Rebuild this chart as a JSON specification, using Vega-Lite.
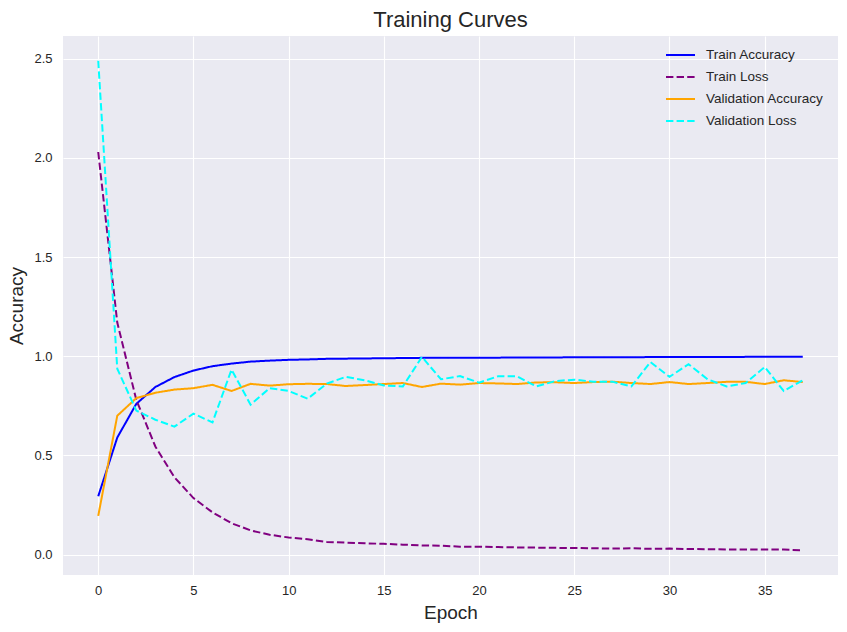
{
  "$schema": "https://vega.github.io/schema/vega-lite/v6.json",
  "autosize": "none",
  "width": 775,
  "height": 539,
  "padding": {"left": 63, "top": 36, "right": 9, "bottom": 57},
  "background": "white",
  "config": {
    "view": {"fill": "#EAEAF2", "stroke": null},
    "font": "Liberation Sans",
    "axis": {
      "domain": false,
      "ticks": false,
      "gridColor": "white",
      "gridWidth": 1.1,
      "labelFont": "Liberation Sans",
      "labelFontSize": 13,
      "labelColor": "#262626",
      "titleFont": "Liberation Sans",
      "titleFontSize": 19,
      "titleFontWeight": "normal",
      "titleColor": "#262626"
    },
    "legend": {
      "labelFont": "Liberation Sans",
      "labelFontSize": 13.5,
      "labelColor": "#262626"
    }
  },
  "title": {
    "text": "Training Curves",
    "fontSize": 22,
    "fontWeight": "normal",
    "font": "Liberation Sans",
    "color": "#262626",
    "baseline": "alphabetic",
    "offset": 9,
    "dy": 22
  },
  "data": {
    "values": [
      {"epoch": 0, "Train Accuracy": 0.294, "Train Loss": 2.03, "Validation Accuracy": 0.195, "Validation Loss": 2.49},
      {"epoch": 1, "Train Accuracy": 0.59, "Train Loss": 1.17, "Validation Accuracy": 0.70, "Validation Loss": 0.937},
      {"epoch": 2, "Train Accuracy": 0.76, "Train Loss": 0.78, "Validation Accuracy": 0.789, "Validation Loss": 0.726},
      {"epoch": 3, "Train Accuracy": 0.845, "Train Loss": 0.545, "Validation Accuracy": 0.816, "Validation Loss": 0.68},
      {"epoch": 4, "Train Accuracy": 0.895, "Train Loss": 0.39, "Validation Accuracy": 0.832, "Validation Loss": 0.645},
      {"epoch": 5, "Train Accuracy": 0.928, "Train Loss": 0.285, "Validation Accuracy": 0.839, "Validation Loss": 0.711},
      {"epoch": 6, "Train Accuracy": 0.95, "Train Loss": 0.213, "Validation Accuracy": 0.856, "Validation Loss": 0.666},
      {"epoch": 7, "Train Accuracy": 0.963, "Train Loss": 0.158, "Validation Accuracy": 0.825, "Validation Loss": 0.933},
      {"epoch": 8, "Train Accuracy": 0.973, "Train Loss": 0.122, "Validation Accuracy": 0.861, "Validation Loss": 0.756},
      {"epoch": 9, "Train Accuracy": 0.978, "Train Loss": 0.1, "Validation Accuracy": 0.852, "Validation Loss": 0.839},
      {"epoch": 10, "Train Accuracy": 0.982, "Train Loss": 0.086, "Validation Accuracy": 0.859, "Validation Loss": 0.825},
      {"epoch": 11, "Train Accuracy": 0.984, "Train Loss": 0.077, "Validation Accuracy": 0.861, "Validation Loss": 0.786},
      {"epoch": 12, "Train Accuracy": 0.987, "Train Loss": 0.064, "Validation Accuracy": 0.86, "Validation Loss": 0.862},
      {"epoch": 13, "Train Accuracy": 0.988, "Train Loss": 0.06, "Validation Accuracy": 0.85, "Validation Loss": 0.896},
      {"epoch": 14, "Train Accuracy": 0.989, "Train Loss": 0.057, "Validation Accuracy": 0.855, "Validation Loss": 0.879},
      {"epoch": 15, "Train Accuracy": 0.99, "Train Loss": 0.054, "Validation Accuracy": 0.86, "Validation Loss": 0.853},
      {"epoch": 16, "Train Accuracy": 0.991, "Train Loss": 0.05, "Validation Accuracy": 0.865, "Validation Loss": 0.848},
      {"epoch": 17, "Train Accuracy": 0.992, "Train Loss": 0.046, "Validation Accuracy": 0.845, "Validation Loss": 0.997},
      {"epoch": 18, "Train Accuracy": 0.992, "Train Loss": 0.045, "Validation Accuracy": 0.862, "Validation Loss": 0.884},
      {"epoch": 19, "Train Accuracy": 0.993, "Train Loss": 0.04, "Validation Accuracy": 0.857, "Validation Loss": 0.90},
      {"epoch": 20, "Train Accuracy": 0.993, "Train Loss": 0.04, "Validation Accuracy": 0.865, "Validation Loss": 0.867},
      {"epoch": 21, "Train Accuracy": 0.993, "Train Loss": 0.038, "Validation Accuracy": 0.863, "Validation Loss": 0.899},
      {"epoch": 22, "Train Accuracy": 0.994, "Train Loss": 0.036, "Validation Accuracy": 0.86, "Validation Loss": 0.899},
      {"epoch": 23, "Train Accuracy": 0.994, "Train Loss": 0.035, "Validation Accuracy": 0.868, "Validation Loss": 0.848},
      {"epoch": 24, "Train Accuracy": 0.994, "Train Loss": 0.034, "Validation Accuracy": 0.869, "Validation Loss": 0.875},
      {"epoch": 25, "Train Accuracy": 0.995, "Train Loss": 0.033, "Validation Accuracy": 0.865, "Validation Loss": 0.882},
      {"epoch": 26, "Train Accuracy": 0.995, "Train Loss": 0.032, "Validation Accuracy": 0.87, "Validation Loss": 0.872},
      {"epoch": 27, "Train Accuracy": 0.995, "Train Loss": 0.03, "Validation Accuracy": 0.872, "Validation Loss": 0.872},
      {"epoch": 28, "Train Accuracy": 0.995, "Train Loss": 0.032, "Validation Accuracy": 0.865, "Validation Loss": 0.848},
      {"epoch": 29, "Train Accuracy": 0.996, "Train Loss": 0.029, "Validation Accuracy": 0.86, "Validation Loss": 0.971},
      {"epoch": 30, "Train Accuracy": 0.996, "Train Loss": 0.03, "Validation Accuracy": 0.87, "Validation Loss": 0.896},
      {"epoch": 31, "Train Accuracy": 0.996, "Train Loss": 0.028, "Validation Accuracy": 0.86, "Validation Loss": 0.96},
      {"epoch": 32, "Train Accuracy": 0.996, "Train Loss": 0.027, "Validation Accuracy": 0.865, "Validation Loss": 0.884},
      {"epoch": 33, "Train Accuracy": 0.996, "Train Loss": 0.026, "Validation Accuracy": 0.871, "Validation Loss": 0.848},
      {"epoch": 34, "Train Accuracy": 0.997, "Train Loss": 0.026, "Validation Accuracy": 0.871, "Validation Loss": 0.865},
      {"epoch": 35, "Train Accuracy": 0.997, "Train Loss": 0.025, "Validation Accuracy": 0.86, "Validation Loss": 0.946},
      {"epoch": 36, "Train Accuracy": 0.997, "Train Loss": 0.025, "Validation Accuracy": 0.879, "Validation Loss": 0.825},
      {"epoch": 37, "Train Accuracy": 0.997, "Train Loss": 0.022, "Validation Accuracy": 0.87, "Validation Loss": 0.879}
    ]
  },
  "transform": [
    {"fold": ["Train Accuracy", "Train Loss", "Validation Accuracy", "Validation Loss"], "as": ["series", "value"]}
  ],
  "mark": {"type": "line", "strokeWidth": 2, "clip": true},
  "encoding": {
    "x": {
      "field": "epoch",
      "type": "quantitative",
      "title": "Epoch",
      "scale": {"domain": [-1.85, 38.85], "nice": false, "zero": false},
      "axis": {"values": [0, 5, 10, 15, 20, 25, 30, 35], "labelPadding": 9, "titlePadding": 6, "format": "d"}
    },
    "y": {
      "field": "value",
      "type": "quantitative",
      "title": "Accuracy",
      "scale": {"domain": [-0.103, 2.615], "nice": false, "zero": false},
      "axis": {"values": [0, 0.5, 1, 1.5, 2, 2.5], "format": ".1f", "labelPadding": 11, "titlePadding": 7}
    },
    "color": {
      "field": "series",
      "type": "nominal",
      "title": null,
      "scale": {
        "domain": ["Train Accuracy", "Train Loss", "Validation Accuracy", "Validation Loss"],
        "range": ["#0000FF", "#800080", "#FFA500", "#00FFFF"]
      },
      "legend": {
        "orient": "none",
        "legendX": 602,
        "legendY": 3.5,
        "symbolType": "stroke",
        "symbolSize": 841,
        "symbolStrokeWidth": 2,
        "labelOffset": 10,
        "rowPadding": -10.3,
        "padding": 0
      }
    },
    "strokeDash": {
      "field": "series",
      "type": "nominal",
      "title": null,
      "scale": {
        "domain": ["Train Accuracy", "Train Loss", "Validation Accuracy", "Validation Loss"],
        "range": [[1, 0], [7.4, 3.2], [1, 0], [7.4, 3.2]]
      },
      "legend": {
        "orient": "none",
        "legendX": 602,
        "legendY": 3.5,
        "symbolType": "stroke",
        "symbolSize": 841,
        "symbolStrokeWidth": 2,
        "labelOffset": 10,
        "rowPadding": -10.3,
        "padding": 0
      }
    }
  }
}
